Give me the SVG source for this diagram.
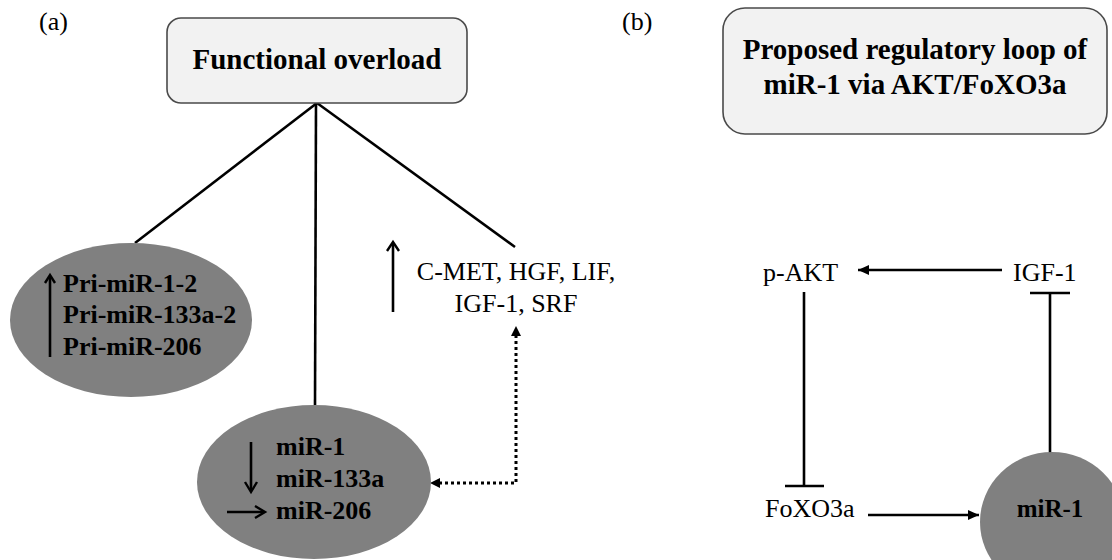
<svg xmlns="http://www.w3.org/2000/svg" width="1112" height="560" viewBox="0 0 1112 560">
  <style>
    .t { font-family: "Liberation Serif", "Times New Roman", serif; fill: #000; }
    .reg { font-size: 26px; }
    .bold { font-weight: bold; }
    .box { fill: #f2f2f2; stroke: #4a4a4a; stroke-width: 1.6; }
    .ell { fill: #808080; }
    .ln { stroke: #000; stroke-width: 2.6; fill: none; }
    .dot { stroke: #000; stroke-width: 3; fill: none; stroke-dasharray: 3 3; }
    .chev { stroke: #000; stroke-width: 2.4; fill: none; stroke-linecap: butt; }
  </style>
  <defs>
    <marker id="ah" markerUnits="userSpaceOnUse" markerWidth="12" markerHeight="12" viewBox="0 0 12 12" refX="11" refY="6" orient="auto">
      <path d="M0,1 L11,6 L0,11 Z" fill="#000"/>
    </marker>
    <marker id="ahs" markerUnits="userSpaceOnUse" markerWidth="10" markerHeight="10" viewBox="0 0 10 10" refX="9" refY="5" orient="auto">
      <path d="M0,0.5 L9,5 L0,9.5 Z" fill="#000"/>
    </marker>
  </defs>

  <rect width="1112" height="560" fill="#fff"/>

  <g id="labels">
    <text class="t reg" x="39" y="30">(a)</text>
    <text class="t reg" x="622" y="30">(b)</text>
  </g>

  <g id="connectors">
    <line class="ln" x1="317" y1="103" x2="135" y2="243"/>
    <line class="ln" x1="316" y1="103" x2="315" y2="405"/>
    <line class="ln" x1="317" y1="103" x2="515" y2="247"/>
    <path class="dot" d="M516,335 L516,483 L440,483"/>
    <path d="M516,326 L511,336 L521,336 Z" fill="#000"/>
    <path d="M430,483 L440,478 L440,488 Z" fill="#000"/>
    <line class="ln" x1="1002" y1="270" x2="858" y2="270" marker-end="url(#ah)"/>
    <line class="ln" x1="1050" y1="453" x2="1050" y2="293"/>
    <line class="ln" x1="1030" y1="293" x2="1070" y2="293"/>
    <line class="ln" x1="804" y1="292" x2="804" y2="486"/>
    <line class="ln" x1="785" y1="486" x2="824" y2="486"/>
    <line class="ln" x1="868" y1="515" x2="979" y2="515" marker-end="url(#ah)"/>
  </g>

  <g id="node-overload">
    <rect class="box" x="167" y="18" width="300" height="85" rx="14"/>
    <text class="t bold" x="317" y="69" font-size="29" text-anchor="middle">Functional overload</text>
  </g>

  <g id="node-pri">
    <ellipse class="ell" cx="131" cy="320" rx="121" ry="77"/>
    <line class="ln" x1="50" y1="357" x2="50" y2="277"/>
    <path class="chev" d="M45,283 L50,275 L55,283"/>
    <text class="t bold" font-size="26" x="63" y="292">Pri-miR-1-2</text>
    <text class="t bold" font-size="26" x="63" y="323">Pri-miR-133a-2</text>
    <text class="t bold" font-size="26" x="63" y="355">Pri-miR-206</text>
  </g>

  <g id="node-mir">
    <ellipse class="ell" cx="314" cy="482" rx="117" ry="77"/>
    <line class="ln" x1="251" y1="442" x2="251" y2="490"/>
    <path class="chev" d="M245,482 L251,492 L257,482"/>
    <line class="ln" x1="227" y1="512" x2="263" y2="512"/>
    <path class="chev" d="M255,506 L265,512 L255,518"/>
    <text class="t bold" font-size="26" x="276" y="455">miR-1</text>
    <text class="t bold" font-size="26" x="276" y="487">miR-133a</text>
    <text class="t bold" font-size="26" x="276" y="519">miR-206</text>
  </g>

  <g id="node-factors">
    <line class="ln" x1="393" y1="312" x2="393" y2="244"/>
    <path class="chev" d="M387,251 L393,242 L399,251"/>
    <text class="t reg" x="516" y="280" text-anchor="middle">C-MET, HGF, LIF,</text>
    <text class="t reg" x="516" y="312" text-anchor="middle">IGF-1, SRF</text>
  </g>

  <g id="node-loop-title">
    <rect class="box" x="723" y="8" width="384" height="126" rx="22"/>
    <text class="t bold" x="915" y="59" font-size="29" text-anchor="middle">Proposed regulatory loop of</text>
    <text class="t bold" x="915" y="94" font-size="29" text-anchor="middle">miR-1 via AKT/FoXO3a</text>
  </g>

  <g id="node-pakt">
    <text class="t reg" x="763" y="281">p-AKT</text>
  </g>
  <g id="node-igf1">
    <text class="t reg" x="1013" y="281">IGF-1</text>
  </g>
  <g id="node-foxo3a">
    <text class="t reg" x="765" y="517">FoXO3a</text>
  </g>
  <g id="node-mir1">
    <ellipse class="ell" cx="1052" cy="522" rx="72" ry="70"/>
    <text class="t bold" x="1050" y="517" font-size="25" text-anchor="middle">miR-1</text>
  </g>
</svg>
